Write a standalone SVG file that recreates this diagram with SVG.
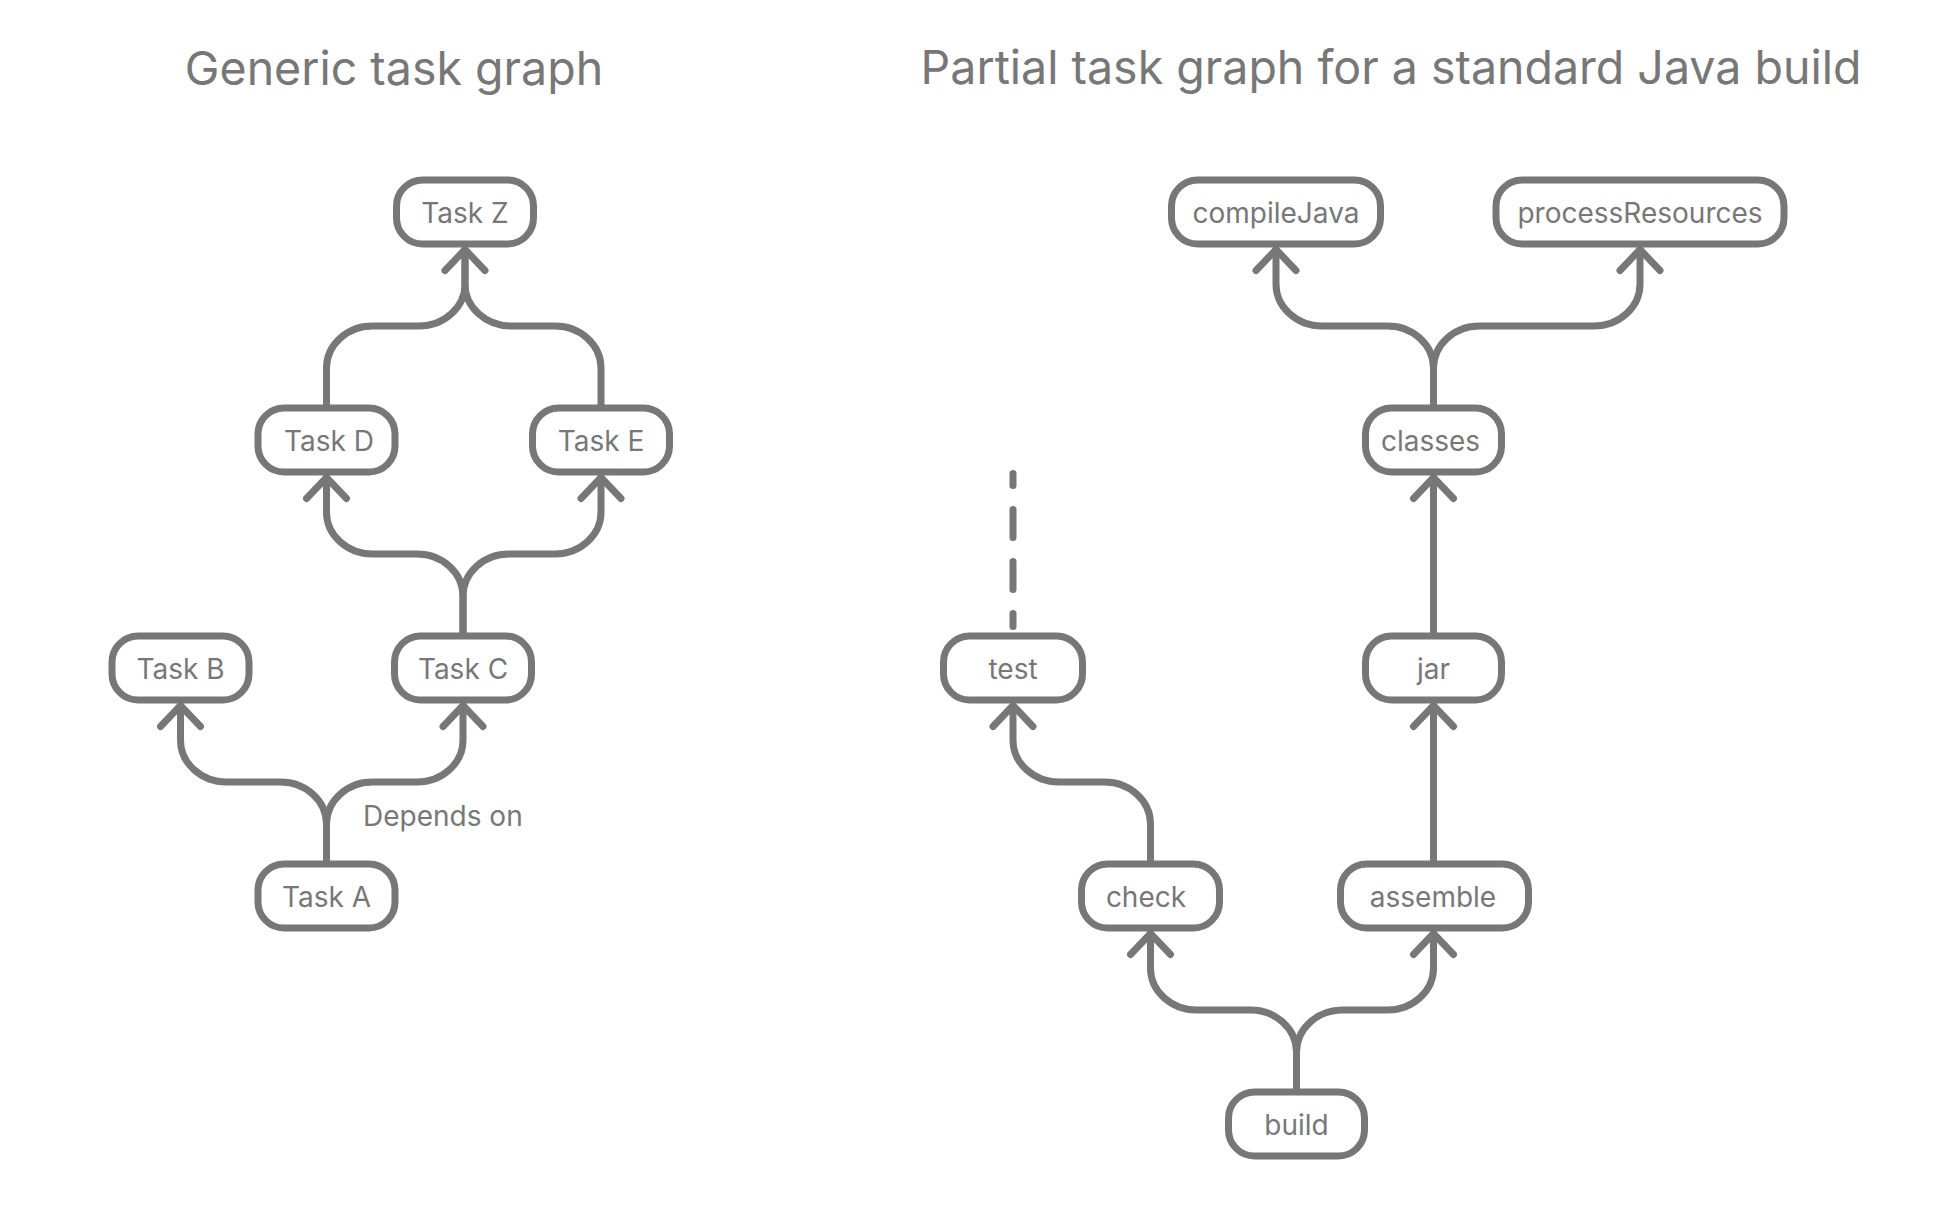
<svg xmlns="http://www.w3.org/2000/svg" width="1940" height="1210" viewBox="0 0 1940 1210">
<style>
.title{font-family:Inter,"Noto Sans","Liberation Sans",sans-serif;font-size:46.5px;fill:#777777;text-anchor:middle}
.node rect{fill:#ffffff;stroke:#777777;stroke-width:7}
.node text{font-family:Inter,"Noto Sans","Liberation Sans",sans-serif;font-size:28px;fill:#777777;text-anchor:middle}
.edge{fill:none;stroke:#777777;stroke-width:7;stroke-linecap:round;stroke-linejoin:round}
.arrow{marker-end:url(#chev)}
.dash{stroke-dasharray:28 24;stroke-dashoffset:16}
.label{font-family:Inter,"Noto Sans","Liberation Sans",sans-serif;font-size:28px;fill:#777777}
</style>
<defs>
<marker id="chev" markerUnits="userSpaceOnUse" markerWidth="60" markerHeight="60" viewBox="-30 -30 60 60" refX="0" refY="0" orient="auto" overflow="visible">
<path d="M-21,-20 L0,0 L-21,20" fill="none" stroke="#777777" stroke-width="7" stroke-linecap="round" stroke-linejoin="round"/>
</marker>
</defs>
<rect width="1940" height="1210" fill="#ffffff"/>
<text class="title" x="394" y="85">Generic task graph</text>
<text class="title" x="1391" y="84">Partial task graph for a standard Java build</text>
<g id="connectors">
<path class="edge arrow" d="M326.5,862 V824 A46 42 0 0 0 280.5,782 H226.5 A46 42 0 0 1 180.5,740 V705.5"/>
<path class="edge arrow" d="M326.5,862 V824 A46 42 0 0 1 372.5,782 H417 A46 42 0 0 0 463,740 V705.5"/>
<path class="edge arrow" d="M463,634 V596 A46 42 0 0 0 417,554 H372.5 A46 42 0 0 1 326.5,512 V477.5"/>
<path class="edge arrow" d="M463,634 V596 A46 42 0 0 1 509,554 H555 A46 42 0 0 0 601,512 V477.5"/>
<path class="edge arrow" d="M326.5,406 V368 A46 42 0 0 1 372.5,326 H419 A46 42 0 0 0 465,284 V249.5"/>
<path class="edge" d="M601,406 V368 A46 42 0 0 0 555,326 H511 A46 42 0 0 1 465,284 V249.5"/>
<text class="label" x="363" y="826">Depends on</text>
<path class="edge arrow" d="M1296.5,1090 V1052 A46 42 0 0 0 1250.5,1010 H1196.5 A46 42 0 0 1 1150.5,968 V933.5"/>
<path class="edge arrow" d="M1296.5,1090 V1052 A46 42 0 0 1 1342.5,1010 H1387.5 A46 42 0 0 0 1433.5,968 V933.5"/>
<path class="edge arrow" d="M1150.5,862 V824 A46 42 0 0 0 1104.5,782 H1059 A46 42 0 0 1 1013,740 V705.5"/>
<path class="edge arrow" d="M1433.5,862 V705.5"/>
<path class="edge arrow" d="M1433.5,634 V477.5"/>
<path class="edge arrow" d="M1433.5,406 V368 A46 42 0 0 0 1387.5,326 H1322 A46 42 0 0 1 1276,284 V249.5"/>
<path class="edge arrow" d="M1433.5,406 V368 A46 42 0 0 1 1479.5,326 H1594 A46 42 0 0 0 1640,284 V249.5"/>
<path class="edge dash" d="M1013,473.5 V626.5"/>
</g>
<g id="taskZ" class="node"><rect x="396.5" y="180" width="137" height="64" rx="26"/><text x="465" y="223">Task Z</text></g>
<g id="taskD" class="node"><rect x="258" y="408" width="137" height="64" rx="26"/><text x="329" y="451">Task D</text></g>
<g id="taskE" class="node"><rect x="532.5" y="408" width="137" height="64" rx="26"/><text x="601" y="451">Task E</text></g>
<g id="taskB" class="node"><rect x="112" y="636" width="137" height="64" rx="26"/><text x="180.5" y="679">Task B</text></g>
<g id="taskC" class="node"><rect x="394.5" y="636" width="137" height="64" rx="26"/><text x="463" y="679">Task C</text></g>
<g id="taskA" class="node"><rect x="258" y="864" width="137" height="64" rx="26"/><text x="326.5" y="907">Task A</text></g>
<g id="compileJava" class="node"><rect x="1171.5" y="180" width="209" height="64" rx="26"/><text x="1276" y="223">compileJava</text></g>
<g id="processResources" class="node"><rect x="1496" y="180" width="288" height="64" rx="26"/><text x="1640" y="223">processResources</text></g>
<g id="classes" class="node"><rect x="1365.5" y="408" width="136" height="64" rx="26"/><text x="1430.5" y="451">classes</text></g>
<g id="test" class="node"><rect x="943.5" y="636" width="139" height="64" rx="26"/><text x="1013" y="679">test</text></g>
<g id="jar" class="node"><rect x="1365.5" y="636" width="136" height="64" rx="26"/><text x="1433.5" y="679">jar</text></g>
<g id="check" class="node"><rect x="1081.5" y="864" width="138" height="64" rx="26"/><text x="1146" y="907">check</text></g>
<g id="assemble" class="node"><rect x="1340.5" y="864" width="188" height="64" rx="26"/><text x="1433" y="907">assemble</text></g>
<g id="build" class="node"><rect x="1228.5" y="1092" width="136" height="64" rx="26"/><text x="1296.5" y="1135">build</text></g>
</svg>
